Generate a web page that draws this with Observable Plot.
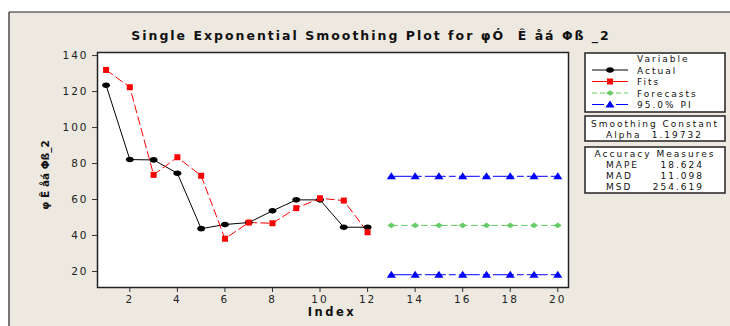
<!DOCTYPE html>
<html><head><meta charset="utf-8">
<script src="https://cdn.jsdelivr.net/npm/d3@7"></script>
<script src="https://cdn.jsdelivr.net/npm/@observablehq/plot@0.6"></script>
<style>
body{margin:0;background:#fff;}
svg{font-family:"DejaVu Sans",Verdana,sans-serif;}
</style></head><body><div id="chart"></div>
<script>
const titleText = "Single Exponential Smoothing Plot for φÓ  Ê åá Φß _2";
const yLabel = "φ Ê åá Φß_2";
const xLabel = "Index";
const index = [1, 2, 3, 4, 5, 6, 7, 8, 9, 10, 11, 12];
const actual = [123.5, 82.2, 82.0, 74.6, 43.8, 46.1, 47.2, 53.7, 59.8, 59.8, 44.6, 44.6];
const fits = [132.0, 122.4, 73.7, 83.5, 73.2, 38.2, 47.2, 46.8, 55.2, 60.7, 59.4, 41.8];
const forecastIndex = [13, 14, 15, 16, 17, 18, 19, 20];
const forecasts = [45.6, 45.6, 45.6, 45.6, 45.6, 45.6, 45.6, 45.6];
const upperPI = [72.9, 72.9, 72.9, 72.9, 72.9, 72.9, 72.9, 72.9];
const lowerPI = [18.2, 18.2, 18.2, 18.2, 18.2, 18.2, 18.2, 18.2];
const xTicks = [2, 4, 6, 8, 10, 12, 14, 16, 18, 20];
const yTicks = [20, 40, 60, 80, 100, 120, 140];
const legendNames = ["Actual", "Fits", "Forecasts", "95.0% PI"];
const alphaValue = "1.19732";
const accuracyNames = ["MAPE", "MAD", "MSD"];
const accuracyValues = ["18.624", "11.098", "254.619"];

const actualData = index.map((x, i) => ({x, y: actual[i]}));
const fitsData = index.map((x, i) => ({x, y: fits[i]}));
const fcData = forecastIndex.map((x, i) => ({x, y: forecasts[i]}));
const upData = forecastIndex.map((x, i) => ({x, y: upperPI[i]}));
const loData = forecastIndex.map((x, i) => ({x, y: lowerPI[i]}));

// Minitab-like marker shapes (wider than tall)
const wideEllipse = {draw(c) {
  const rx = 4, ry = 2.8, k = 0.5523;
  c.moveTo(rx, 0);
  c.bezierCurveTo(rx, ry * k, rx * k, ry, 0, ry);
  c.bezierCurveTo(-rx * k, ry, -rx, ry * k, -rx, 0);
  c.bezierCurveTo(-rx, -ry * k, -rx * k, -ry, 0, -ry);
  c.bezierCurveTo(rx * k, -ry, rx, -ry * k, rx, 0);
  c.closePath();
}};
const wideDiamond = {draw(c) {
  c.moveTo(0, -2.8); c.lineTo(4, 0); c.lineTo(0, 2.8); c.lineTo(-4, 0); c.closePath();
}};
const wideTriangle = {draw(c) {
  c.moveTo(0, -4); c.lineTo(4.6, 3); c.lineTo(-4.6, 3); c.closePath();
}};
const squareSym = {draw(c) {
  c.moveTo(-3, -3); c.lineTo(3, -3); c.lineTo(3, 3); c.lineTo(-3, 3); c.closePath();
}};

const blueDash = "20,4,6,4";
const plot = Plot.plot({
  width: 730, height: 326,
  marginLeft: 97, marginTop: 52, marginRight: 162, marginBottom: 39,
  style: {background: "transparent", fontFamily: "DejaVu Sans, sans-serif"},
  x: {domain: [0.64, 20.45], ticks: xTicks, label: null},
  y: {domain: [11.1, 141.7], ticks: yTicks, label: null},
  marks: [
    Plot.frame({fill: "white", stroke: "none"}),
    Plot.line(upData, {x: "x", y: "y", stroke: "#0000ff", strokeWidth: 1, strokeDasharray: blueDash}),
    Plot.line(loData, {x: "x", y: "y", stroke: "#0000ff", strokeWidth: 1, strokeDasharray: blueDash}),
    Plot.line(fcData, {x: "x", y: "y", stroke: "#66cc66", strokeWidth: 1, strokeDasharray: "6,4"}),
    Plot.line(actualData, {x: "x", y: "y", stroke: "#000", strokeWidth: 1}),
    Plot.line(fitsData, {x: "x", y: "y", stroke: "#ff0000", strokeWidth: 1, strokeDasharray: "8,4"}),
    Plot.dot(upData, {x: "x", y: "y", symbol: wideTriangle, fill: "#0000ff"}),
    Plot.dot(loData, {x: "x", y: "y", symbol: wideTriangle, fill: "#0000ff"}),
    Plot.dot(fcData, {x: "x", y: "y", symbol: wideDiamond, fill: "#66cc66"}),
    Plot.dot(actualData, {x: "x", y: "y", symbol: wideEllipse, fill: "#000"}),
    Plot.dot(fitsData, {x: "x", y: "y", symbol: squareSym, fill: "#ff0000"}),
    Plot.axisX({ticks: xTicks, tickSize: 5, tickPadding: 3, fontSize: 10.5, label: null, stroke: "#333"}),
    Plot.axisY({ticks: yTicks, tickSize: 5, tickPadding: 4, fontSize: 10.5, label: null, stroke: "#333"}),
    Plot.frame({stroke: "#222", strokeWidth: 1.5})
  ]
});
document.getElementById("chart").appendChild(plot);
const svg = d3.select(plot);
svg.selectAll("g[aria-label='x-axis tick label'] text, g[aria-label='y-axis tick label'] text")
  .style("letter-spacing", "2px").attr("fill", "#222");

// background
svg.insert("rect", ":first-child").attr("x", 9).attr("y", 12).attr("width", 721).attr("height", 314).attr("fill", "#ede9e0");
svg.append("line").attr("x1", 9).attr("x2", 730).attr("y1", 12).attr("y2", 12).attr("stroke", "#222").attr("stroke-width", 1.2);
svg.append("line").attr("x1", 9).attr("x2", 9).attr("y1", 12).attr("y2", 326).attr("stroke", "#222").attr("stroke-width", 1.2);

// title
svg.append("text").attr("x", 371).attr("y", 40).attr("text-anchor", "middle")
  .style("font-size", "12.5px").style("font-weight", "bold").style("letter-spacing", "2px").attr("fill", "#111").text(titleText);
// x label
svg.append("text").attr("x", 332).attr("y", 316).attr("text-anchor", "middle")
  .style("font-size", "11.5px").style("font-weight", "bold").style("letter-spacing", "2.5px").attr("fill", "#111").text(xLabel);
// y label
svg.append("text").attr("transform", "translate(49,175) rotate(-90)").attr("text-anchor", "middle")
  .style("font-size", "10.5px").style("font-weight", "bold").style("letter-spacing", "0px").attr("fill", "#111").text(yLabel);

// legend boxes
function box(y0, y1) {
  svg.append("rect").attr("x", 585).attr("y", y0).attr("width", 140).attr("height", y1 - y0)
    .attr("fill", "white").attr("stroke", "#222").attr("stroke-width", 1.5);
}
function txt(x, y, s, anchor) {
  svg.append("text").attr("x", x).attr("y", y).attr("text-anchor", anchor || "start")
    .style("font-size", "9px").style("letter-spacing", "2px").attr("fill", "#111").text(s);
}
box(53, 112);
box(116, 141);
box(147, 193);
txt(637, 62, "Variable");
const legY = [73.5, 85, 96.5, 108];
const legColors = ["#000", "#ff0000", "#66cc66", "#0000ff"];
const legDash = [null, null, "5,3", "12,4,4,4"];
const legSym = [wideEllipse, squareSym, wideDiamond, wideTriangle];
legY.forEach((y, i) => {
  const ly = y - 3.5;
  const l = svg.append("line").attr("x1", 592).attr("x2", 628).attr("y1", ly).attr("y2", ly)
    .attr("stroke", legColors[i]).attr("stroke-width", 1);
  if (legDash[i]) l.attr("stroke-dasharray", legDash[i]);
  svg.append("path").attr("d", d3.symbol(legSym[i])())
    .attr("transform", `translate(610,${ly})`).attr("fill", legColors[i]);
  txt(637, y, legendNames[i]);
});
txt(655, 127, "Smoothing Constant", "middle");
txt(606, 138, "Alpha");
txt(703, 138, alphaValue, "end");
txt(655, 157, "Accuracy Measures", "middle");
accuracyNames.forEach((n, i) => {
  txt(606, 168 + i * 11, n);
  txt(704, 168 + i * 11, accuracyValues[i], "end");
});
</script></body></html>
